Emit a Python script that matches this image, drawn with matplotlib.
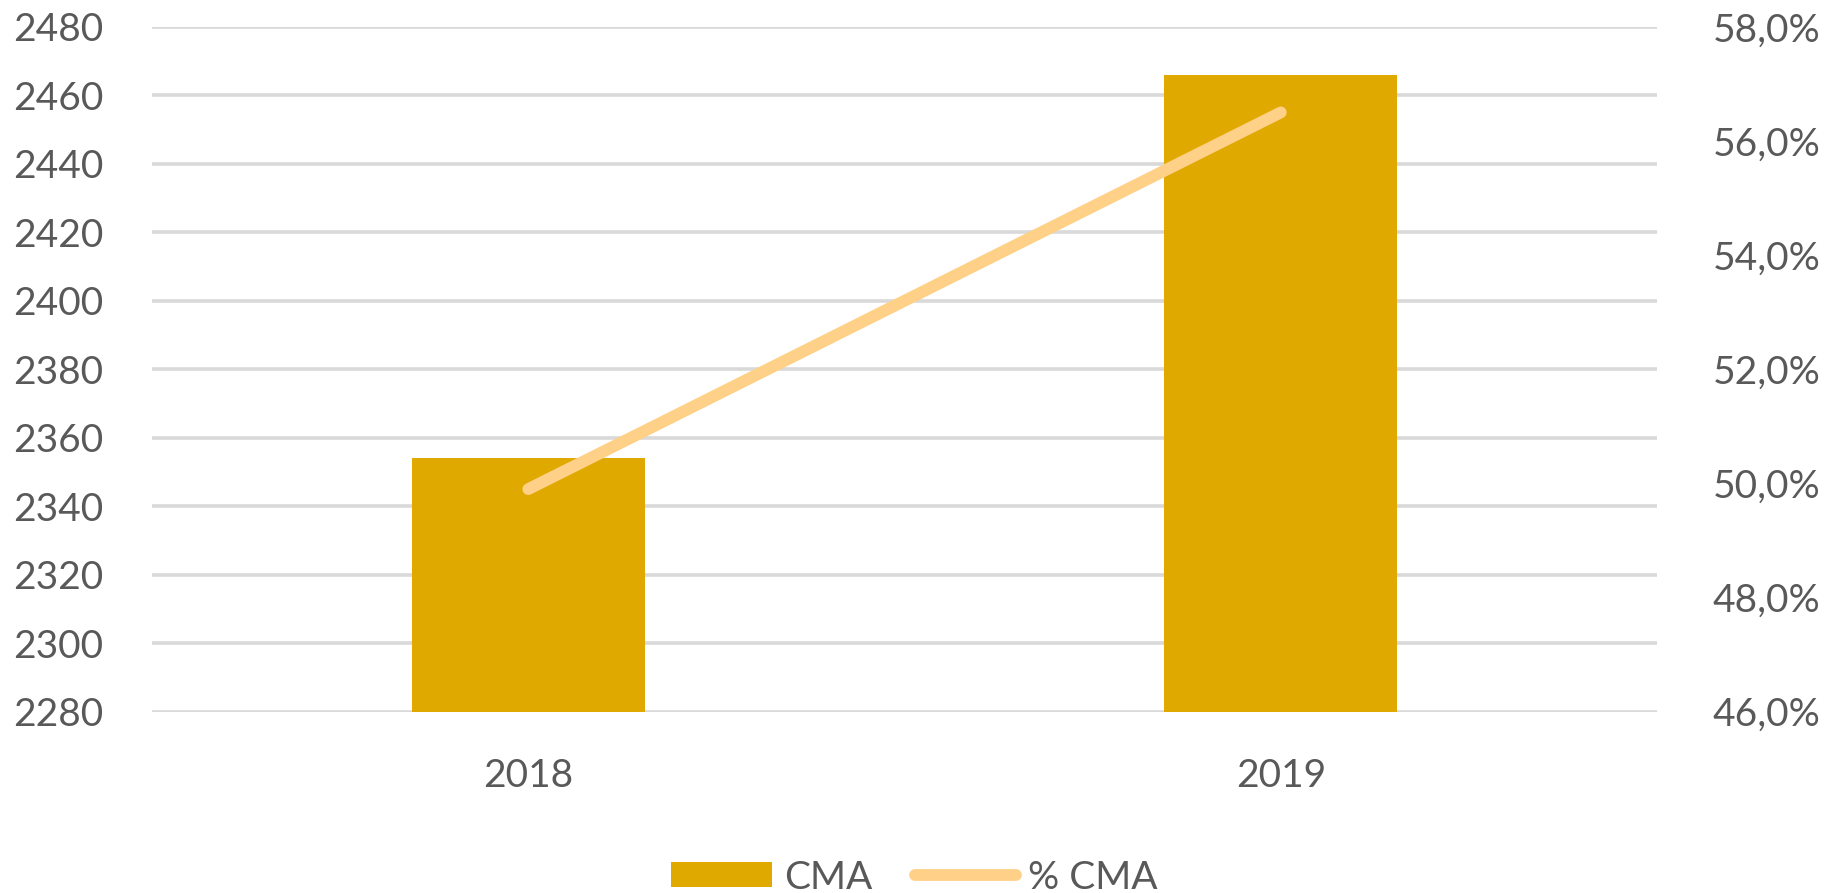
import matplotlib.pyplot as plt
from matplotlib.ticker import FuncFormatter

years = ["2018", "2019"]
cma = [2354, 2466]
pct_cma = [49.9, 56.5]

left_ticks = list(range(2280, 2481, 20))
right_ticks = [46, 48, 50, 52, 54, 56, 58]

bar_color = "#E0A900"
line_color = "#FFD087"
grid_color = "#D9D9D9"
text_color = "#595959"

plt.rcParams['font.family'] = ['Lato', 'DejaVu Sans']

fig = plt.figure(figsize=(18.29, 8.93), dpi=100)
ax = fig.add_axes([0.0831, 0.203, 0.8229, 0.767])
x = list(range(len(years)))

ax.bar(x, cma, width=0.31, color=bar_color, label="CMA", zorder=3)
ax.set_ylim(2280, 2480)
ax.set_yticks(left_ticks)
ax.set_xlim(-0.5, 1.5)
ax.set_xticks(x)
ax.set_xticklabels(years)
for t in left_ticks:
    ax.axhline(t, color=grid_color, lw=2.6, zorder=1)

ax2 = ax.twinx()
ax2.plot(x, pct_cma, color=line_color, lw=8.5, solid_capstyle='round', label="% CMA", zorder=4)
ax2.set_ylim(46, 58)
ax2.set_yticks(right_ticks)
ax2.yaxis.set_major_formatter(FuncFormatter(lambda v, p: f"{v:.1f}%".replace(".", ",")))

for a in (ax, ax2):
    for s in a.spines.values():
        s.set_visible(False)
    a.tick_params(length=0, labelsize=28, colors=text_color)
ax.tick_params(axis='y', pad=35)
ax2.tick_params(axis='y', pad=40)
ax.tick_params(axis='x', pad=33)

h1, l1 = ax.get_legend_handles_labels()
h2, l2 = ax2.get_legend_handles_labels()
leg = fig.legend(h1 + h2, l1 + l2, loc='lower center', bbox_to_anchor=(0.5, -0.042), ncol=2,
                 frameon=False, fontsize=28, handlelength=2.6, handleheight=0.6,
                 handletextpad=0.3, columnspacing=1.1)
for t in leg.get_texts():
    t.set_color(text_color)

plt.savefig("out.png", dpi=100)
